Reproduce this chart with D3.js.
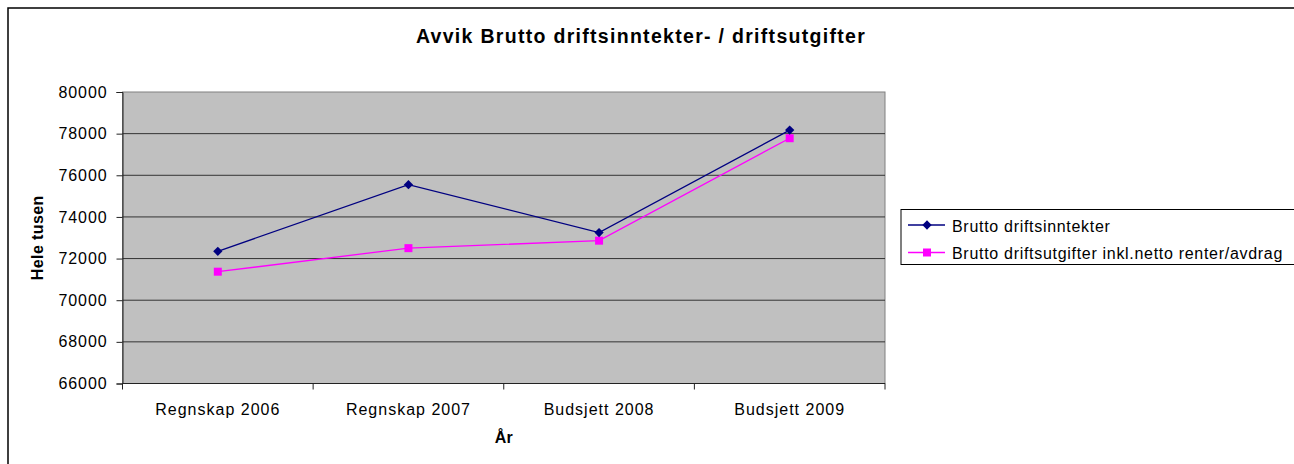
<!DOCTYPE html>
<html>
<head>
<meta charset="utf-8">
<script src="https://cdn.jsdelivr.net/npm/d3@7"></script>
<style>
  body { margin: 0; background: #fff; overflow: hidden; }
  svg { display: block; font-family: Arial, "Liberation Sans", sans-serif; }
</style>
</head>
<body>
<svg width="1294" height="464"></svg>
<script>
// Chart data
var categories = ["Regnskap 2006", "Regnskap 2007", "Budsjett 2008", "Budsjett 2009"];
var inntekter = [72350, 75550, 73250, 78170];
var utgifter = [71370, 72500, 72860, 77780];
var seriesNames = ["Brutto driftsinntekter", "Brutto driftsutgifter inkl.netto renter/avdrag"];
var yTicks = [66000, 68000, 70000, 72000, 74000, 76000, 78000, 80000];

var svg = d3.select("svg");
var plot = { left: 122.5, right: 885, top: 92, bottom: 383.5 };

// outer chart frame (runs off the right and bottom edges)
svg.append("rect")
    .attr("x", 8).attr("y", 8)
    .attr("width", 2000).attr("height", 1000)
    .attr("fill", "#fff").attr("stroke", "#000").attr("stroke-width", 1.5);

var xScale = d3.scaleBand().domain(categories).range([plot.left, plot.right]);
var yScale = d3.scaleLinear().domain([66000, 80000]).range([plot.bottom, plot.top]);

// plot background
svg.append("rect")
    .attr("x", plot.left).attr("y", plot.top)
    .attr("width", plot.right - plot.left).attr("height", plot.bottom - plot.top)
    .attr("fill", "#c0c0c0").attr("stroke", "#808080").attr("stroke-width", 1);

// gridlines
svg.append("g").selectAll("line")
    .data(yTicks.filter(function (d) { return d > 66000 && d < 80000; }))
    .enter().append("line")
    .attr("x1", plot.left).attr("x2", plot.right)
    .attr("y1", function (d) { return yScale(d); })
    .attr("y2", function (d) { return yScale(d); })
    .attr("stroke", "#333").attr("stroke-width", 1);

// y axis
var yAxis = svg.append("g")
    .attr("transform", "translate(" + plot.left + ",0)")
    .call(d3.axisLeft(yScale).tickValues(yTicks).tickSize(6).tickPadding(9).tickFormat(d3.format("d")));
yAxis.select(".domain").attr("stroke", "#222");
yAxis.selectAll(".tick line").attr("stroke", "#222");
yAxis.selectAll("text")
    .attr("font-size", 16).attr("fill", "#000")
    .style("letter-spacing", "0.9px").attr("font-family", "Arial, 'Liberation Sans', sans-serif");

// x axis: ticks at category boundaries
var xAxis = svg.append("g").attr("transform", "translate(0," + plot.bottom + ")");
xAxis.append("line")
    .attr("x1", plot.left).attr("x2", plot.right)
    .attr("stroke", "#222");
var bounds = categories.map(function (c) { return xScale(c); }).concat([plot.right]);
xAxis.selectAll("line.tk").data(bounds).enter().append("line")
    .attr("class", "tk")
    .attr("x1", function (d) { return d; }).attr("x2", function (d) { return d; })
    .attr("y1", 0).attr("y2", 6).attr("stroke", "#222");
xAxis.selectAll("text").data(categories).enter().append("text")
    .attr("x", function (d) { return xScale(d) + xScale.bandwidth() / 2; })
    .attr("y", 31.5)
    .attr("text-anchor", "middle")
    .attr("font-size", 16)
    .style("letter-spacing", "1px")
    .text(function (d) { return d; });

// lines and markers
var cx = function (d, i) { return xScale(categories[i]) + xScale.bandwidth() / 2; };
var line = d3.line().x(cx).y(function (d) { return yScale(d); });

svg.append("path").datum(utgifter)
    .attr("d", line).attr("fill", "none").attr("stroke", "#ff00ff").attr("stroke-width", 1.3);
svg.append("path").datum(inntekter)
    .attr("d", line).attr("fill", "none").attr("stroke", "#000080").attr("stroke-width", 1.3);

svg.append("g").selectAll("rect").data(utgifter).enter().append("rect")
    .attr("x", function (d, i) { return cx(d, i) - 4; })
    .attr("y", function (d) { return yScale(d) - 4; })
    .attr("width", 8).attr("height", 8)
    .attr("fill", "#ff00ff");

var diamond = d3.symbol().type(d3.symbolDiamond2).size(55);
svg.append("g").selectAll("path").data(inntekter).enter().append("path")
    .attr("d", diamond)
    .attr("transform", function (d, i) { return "translate(" + cx(d, i) + "," + yScale(d) + ")"; })
    .attr("fill", "#000080");

// titles
svg.append("text")
    .attr("x", 641).attr("y", 43)
    .attr("text-anchor", "middle")
    .attr("font-size", 19.5).attr("font-weight", "bold")
    .style("letter-spacing", "1.3px")
    .text("Avvik Brutto driftsinntekter- / driftsutgifter");

svg.append("text")
    .attr("transform", "translate(43," + (plot.top + plot.bottom) / 2 + ") rotate(-90)")
    .attr("text-anchor", "middle")
    .attr("font-size", 16).attr("font-weight", "bold")
    .style("letter-spacing", "0.4px")
    .text("Hele tusen");

svg.append("text")
    .attr("x", (plot.left + plot.right) / 2).attr("y", 443)
    .attr("text-anchor", "middle")
    .attr("font-size", 16).attr("font-weight", "bold")
    .text("År");

// legend
var legend = svg.append("g").attr("transform", "translate(901,209.5)");
legend.append("rect")
    .attr("width", 420).attr("height", 55)
    .attr("fill", "#fff").attr("stroke", "#000").attr("stroke-width", 1);

var items = [
    { name: seriesNames[0], color: "#000080", shape: "diamond" },
    { name: seriesNames[1], color: "#ff00ff", shape: "square" }
];
var row = legend.selectAll("g.item").data(items).enter().append("g")
    .attr("class", "item")
    .attr("transform", function (d, i) { return "translate(0," + (15.5 + i * 27.5) + ")"; });
row.append("line")
    .attr("x1", 7).attr("x2", 44)
    .attr("stroke", function (d) { return d.color; }).attr("stroke-width", 1.3);
row.append("path")
    .attr("d", function (d) {
        return d.shape === "diamond" ? diamond() : d3.symbol().type(d3.symbolSquare).size(64)();
    })
    .attr("transform", "translate(26,0)")
    .attr("fill", function (d) { return d.color; });
row.append("text")
    .attr("x", 51).attr("y", 3.5)
    .attr("dy", "0.2em")
    .attr("font-size", 16)
    .style("letter-spacing", "0.7px")
    .text(function (d) { return d.name; });
</script>
</body>
</html>
